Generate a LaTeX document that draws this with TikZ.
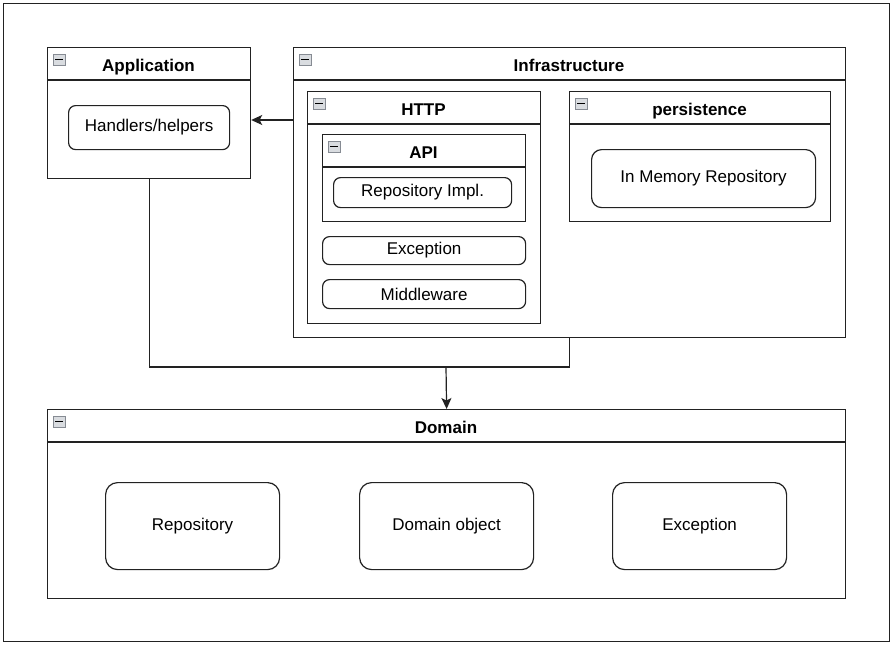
\documentclass[tikz,border=0pt]{standalone}
\usepackage{fontspec}
\setmainfont{Liberation Sans}
\usepackage{xcolor}
\usepackage{tikz}
\usetikzlibrary{arrows.meta,calc}
\definecolor{linedark}{HTML}{222222}
\definecolor{iconedge}{HTML}{868B93}
\definecolor{iconfill}{HTML}{D9DCE0}
\newcommand{\diagramfont}{\fontsize{17}{20}\selectfont}
\tikzset{
  frame/.style={draw=linedark, line width=1.2pt, fill=white, anchor=north west, inner sep=0pt},
  group/.style={draw=linedark, line width=1.2pt, fill=white, anchor=north west, inner sep=0pt},
  grouptitle/.style={font=\diagramfont\bfseries, inner sep=0pt, anchor=base},
  item/.style={draw=linedark, line width=1.2pt, rounded corners=7pt, anchor=north west, inner sep=0pt, align=center},
  block/.style={draw=linedark, line width=1.2pt, rounded corners=12pt, anchor=north west, inner sep=0pt, align=center},
  connector/.style={draw=linedark, line width=1.2pt},
  arrow/.style={-{Stealth[length=11pt, width=10pt, inset=2.5pt]}, line width=1.2pt, draw=linedark},
  collapse/.pic={\draw[iconedge, fill=iconfill, line width=0.8pt] (0,0) rectangle (12,11); \draw[black, line width=1.4pt] (2,5.5) -- (10,5.5);}
}

\begin{document}
\begin{tikzpicture}[x=1pt, y=-1pt, font=\diagramfont]
  \useasboundingbox (0,0) rectangle (893,645);
  \node[frame, minimum width=886pt, minimum height=638pt] (page) at (3,3) {};

  \node[group, minimum width=203pt, minimum height=131pt] (app) at (47,47) {};
  \node[grouptitle] (apptitle) at (148.5,71) {Application};
  \node[item, minimum width=161pt, minimum height=44pt] (hdl) at (68,105) {Handlers/helpers};

  \node[group, minimum width=552pt, minimum height=290pt] (infra) at (293,47) {};
  \node[grouptitle] (infratitle) at (569,71) {Infrastructure};
  \node[group, minimum width=233pt, minimum height=232pt] (http) at (307,91) {};
  \node[grouptitle] (httptitle) at (423.5,115) {HTTP};
  \node[group, minimum width=203pt, minimum height=87pt] (api) at (322,134) {};
  \node[grouptitle] (apititle) at (423.5,158) {API};
  \node[item, minimum width=178pt, minimum height=30pt] (repoimpl) at (333,177) {Repository Impl.};
  \node[item, minimum width=203pt, minimum height=28pt] (httpexc) at (322,236) {Exception};
  \node[item, minimum width=203pt, minimum height=29pt] (mw) at (322,279) {Middleware};
  \node[group, minimum width=261pt, minimum height=130pt] (pers) at (569,91) {};
  \node[grouptitle] (perstitle) at (699.5,115) {persistence};
  \node[item, rounded corners=10pt, minimum width=224pt, minimum height=58pt] (memrepo) at (591,149) {In Memory Repository};

  \node[group, minimum width=798pt, minimum height=189pt] (dom) at (47,409) {};
  \node[grouptitle] (domtitle) at (446,433) {Domain};
  \node[block, minimum width=174pt, minimum height=87pt] (repo) at (105,482) {Repository};
  \node[block, minimum width=174pt, minimum height=87pt] (domobj) at (359,482) {Domain object};
  \node[block, minimum width=174pt, minimum height=87pt] (domexc) at (612,482) {Exception};

  \foreach \g in {app,infra,http,api,pers,dom} {
    \draw[connector] ($(\g.north west)+(0,33)$) -- ($(\g.north east)+(0,33)$);
    \pic at ($(\g.north west)+(6,7)$) {collapse};
  }

  \coordinate (merge) at (446,367);
  \draw[arrow] ([yshift=-73pt]infra.north west) -- ([yshift=-73pt]app.north east);
  \draw[connector] (app.south) |- (merge);
  \draw[connector] (infra.south) |- (merge);
  \draw[arrow] (merge) -- (dom.north);
\end{tikzpicture}
\end{document}
